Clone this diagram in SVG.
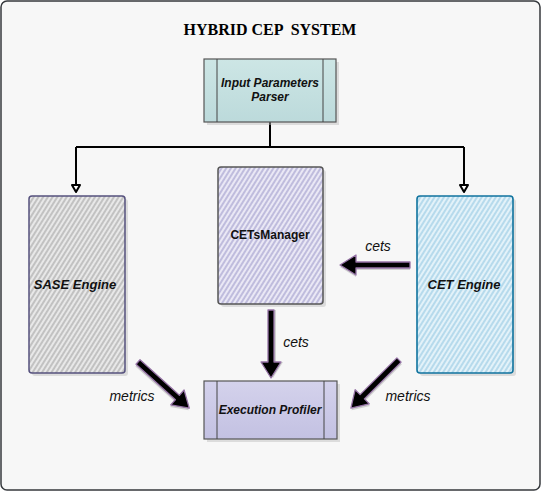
<svg xmlns="http://www.w3.org/2000/svg" width="541" height="491" viewBox="0 0 541 491">
  <style>
    .lbl{font-family:"Liberation Sans",Arial,sans-serif;font-weight:bold;font-style:italic;fill:#111;text-anchor:middle}
    .edge{font-family:"Liberation Sans",Arial,sans-serif;font-style:italic;font-size:14px;fill:#111;text-anchor:middle}
    .fat{fill:#000;stroke:#9673a6;stroke-width:1.3;stroke-linejoin:round}
    .fatsh{fill:#888;opacity:0.35}
    .wire{fill:none;stroke:#000;stroke-width:2}
    .sh{fill:#bbb;opacity:0.45}
  </style>
  <defs>
    <pattern id="hGray" width="4" height="4" patternUnits="userSpaceOnUse" patternTransform="rotate(32)">
      <rect width="4" height="4" fill="#e8e8e8"/>
      <line x1="1" y1="0" x2="1" y2="4" stroke="#a8a8a8" stroke-width="1.2"/>
    </pattern>
    <pattern id="hLav" width="4" height="4" patternUnits="userSpaceOnUse" patternTransform="rotate(32)">
      <rect width="4" height="4" fill="#eae8f5"/>
      <line x1="1" y1="0" x2="1" y2="4" stroke="#a29fce" stroke-width="1.2"/>
    </pattern>
    <pattern id="hBlue" width="4" height="4" patternUnits="userSpaceOnUse" patternTransform="rotate(32)">
      <rect width="4" height="4" fill="#e3f2f9"/>
      <line x1="1" y1="0" x2="1" y2="4" stroke="#98cbe4" stroke-width="1.2"/>
    </pattern>
    <linearGradient id="gTeal" x1="0" y1="0" x2="0" y2="1">
      <stop offset="0" stop-color="#cde6e5"/>
      <stop offset="1" stop-color="#bcdadb"/>
    </linearGradient>
    <linearGradient id="gLav" x1="0" y1="0" x2="0" y2="1">
      <stop offset="0" stop-color="#d4d2ec"/>
      <stop offset="1" stop-color="#c3c1e2"/>
    </linearGradient>
  </defs>

  <rect x="1" y="1" width="539" height="489" rx="6" fill="#f7f7f7" stroke="#36393d" stroke-width="1.5"/>
  <text x="270" y="35" xml:space="preserve" font-family="'Liberation Serif','Times New Roman',serif" font-weight="bold" font-size="16" text-anchor="middle" fill="#000">HYBRID CEP  SYSTEM</text>

  <g id="connectors">
    <path class="wire" d="M270,122 V147 M76,147 H464 M76,147 V186 M464,147 V186"/>
    <path d="M72,185 L80,185 L76,192 Z M460,185 L468,185 L464,192 Z" fill="#fff" stroke="#000" stroke-width="2" stroke-linejoin="round"/>

    <g transform="translate(410,265) rotate(180)">
      <polygon class="fatsh" transform="translate(0,-2)" points="0,-3 54,-3 54,-10 70,0 54,10 54,3 0,3"/>
      <polygon class="fat" points="0,-3 54,-3 54,-10 70,0 54,10 54,3 0,3"/>
    </g>
    <g transform="translate(271,310) rotate(90)">
      <polygon class="fatsh" transform="translate(0,-2)" points="0,-3 52,-3 52,-10 68,0 52,10 52,3 0,3"/>
      <polygon class="fat" points="0,-3 52,-3 52,-10 68,0 52,10 52,3 0,3"/>
    </g>
    <g transform="translate(138,362) rotate(42)">
      <polygon class="fatsh" transform="translate(1,2)" points="0,-3 53,-3 53,-10 69,0 53,10 53,3 0,3"/>
      <polygon class="fat" points="0,-3 53,-3 53,-10 69,0 53,10 53,3 0,3"/>
    </g>
    <g transform="translate(399,360) rotate(135)">
      <polygon class="fatsh" transform="translate(1,-2)" points="0,-3 52,-3 52,-10 68,0 52,10 52,3 0,3"/>
      <polygon class="fat" points="0,-3 52,-3 52,-10 68,0 52,10 52,3 0,3"/>
    </g>

    <text class="edge" x="378" y="251">cets</text>
    <text class="edge" x="296" y="347">cets</text>
    <text class="edge" x="132" y="401">metrics</text>
    <text class="edge" x="408" y="401">metrics</text>
  </g>

  <g id="parser">
    <rect class="sh" x="207" y="62" width="132" height="63"/>
    <rect x="204" y="59" width="132" height="63" fill="url(#gTeal)" stroke="#555" stroke-width="1.2"/>
    <line x1="217" y1="59" x2="217" y2="122" stroke="#444" stroke-width="1"/>
    <line x1="323" y1="59" x2="323" y2="122" stroke="#444" stroke-width="1"/>
    <text class="lbl" font-size="12" x="270" y="87">Input Parameters</text>
    <text class="lbl" font-size="12" x="270" y="101">Parser</text>
  </g>

  <g id="sase">
    <rect class="sh" x="32" y="199" width="96" height="177" rx="3"/>
    <rect x="29" y="196" width="96" height="177" rx="3" fill="url(#hGray)" stroke="#56517e" stroke-width="1.5"/>
    <text class="lbl" font-size="13" x="75" y="289">SASE Engine</text>
  </g>

  <g id="cetsmanager">
    <rect class="sh" x="221" y="170" width="105" height="137" rx="3"/>
    <rect x="218" y="167" width="105" height="137" rx="3" fill="url(#hLav)" stroke="#555" stroke-width="1.5"/>
    <text class="lbl" font-size="12" style="font-style:normal" x="270" y="239">CETsManager</text>
  </g>

  <g id="cetengine">
    <rect class="sh" x="420" y="199" width="96" height="177" rx="3"/>
    <rect x="417" y="196" width="96" height="177" rx="3" fill="url(#hBlue)" stroke="#10739e" stroke-width="1.6"/>
    <text class="lbl" font-size="13" x="464" y="289">CET Engine</text>
  </g>

  <g id="profiler">
    <rect class="sh" x="207" y="384" width="133" height="58"/>
    <rect x="204" y="381" width="133" height="58" fill="url(#gLav)" stroke="#555" stroke-width="1.2"/>
    <line x1="217" y1="381" x2="217" y2="439" stroke="#444" stroke-width="1"/>
    <line x1="324" y1="381" x2="324" y2="439" stroke="#444" stroke-width="1"/>
    <text class="lbl" font-size="12" x="270" y="414">Execution Profiler</text>
  </g>
</svg>
